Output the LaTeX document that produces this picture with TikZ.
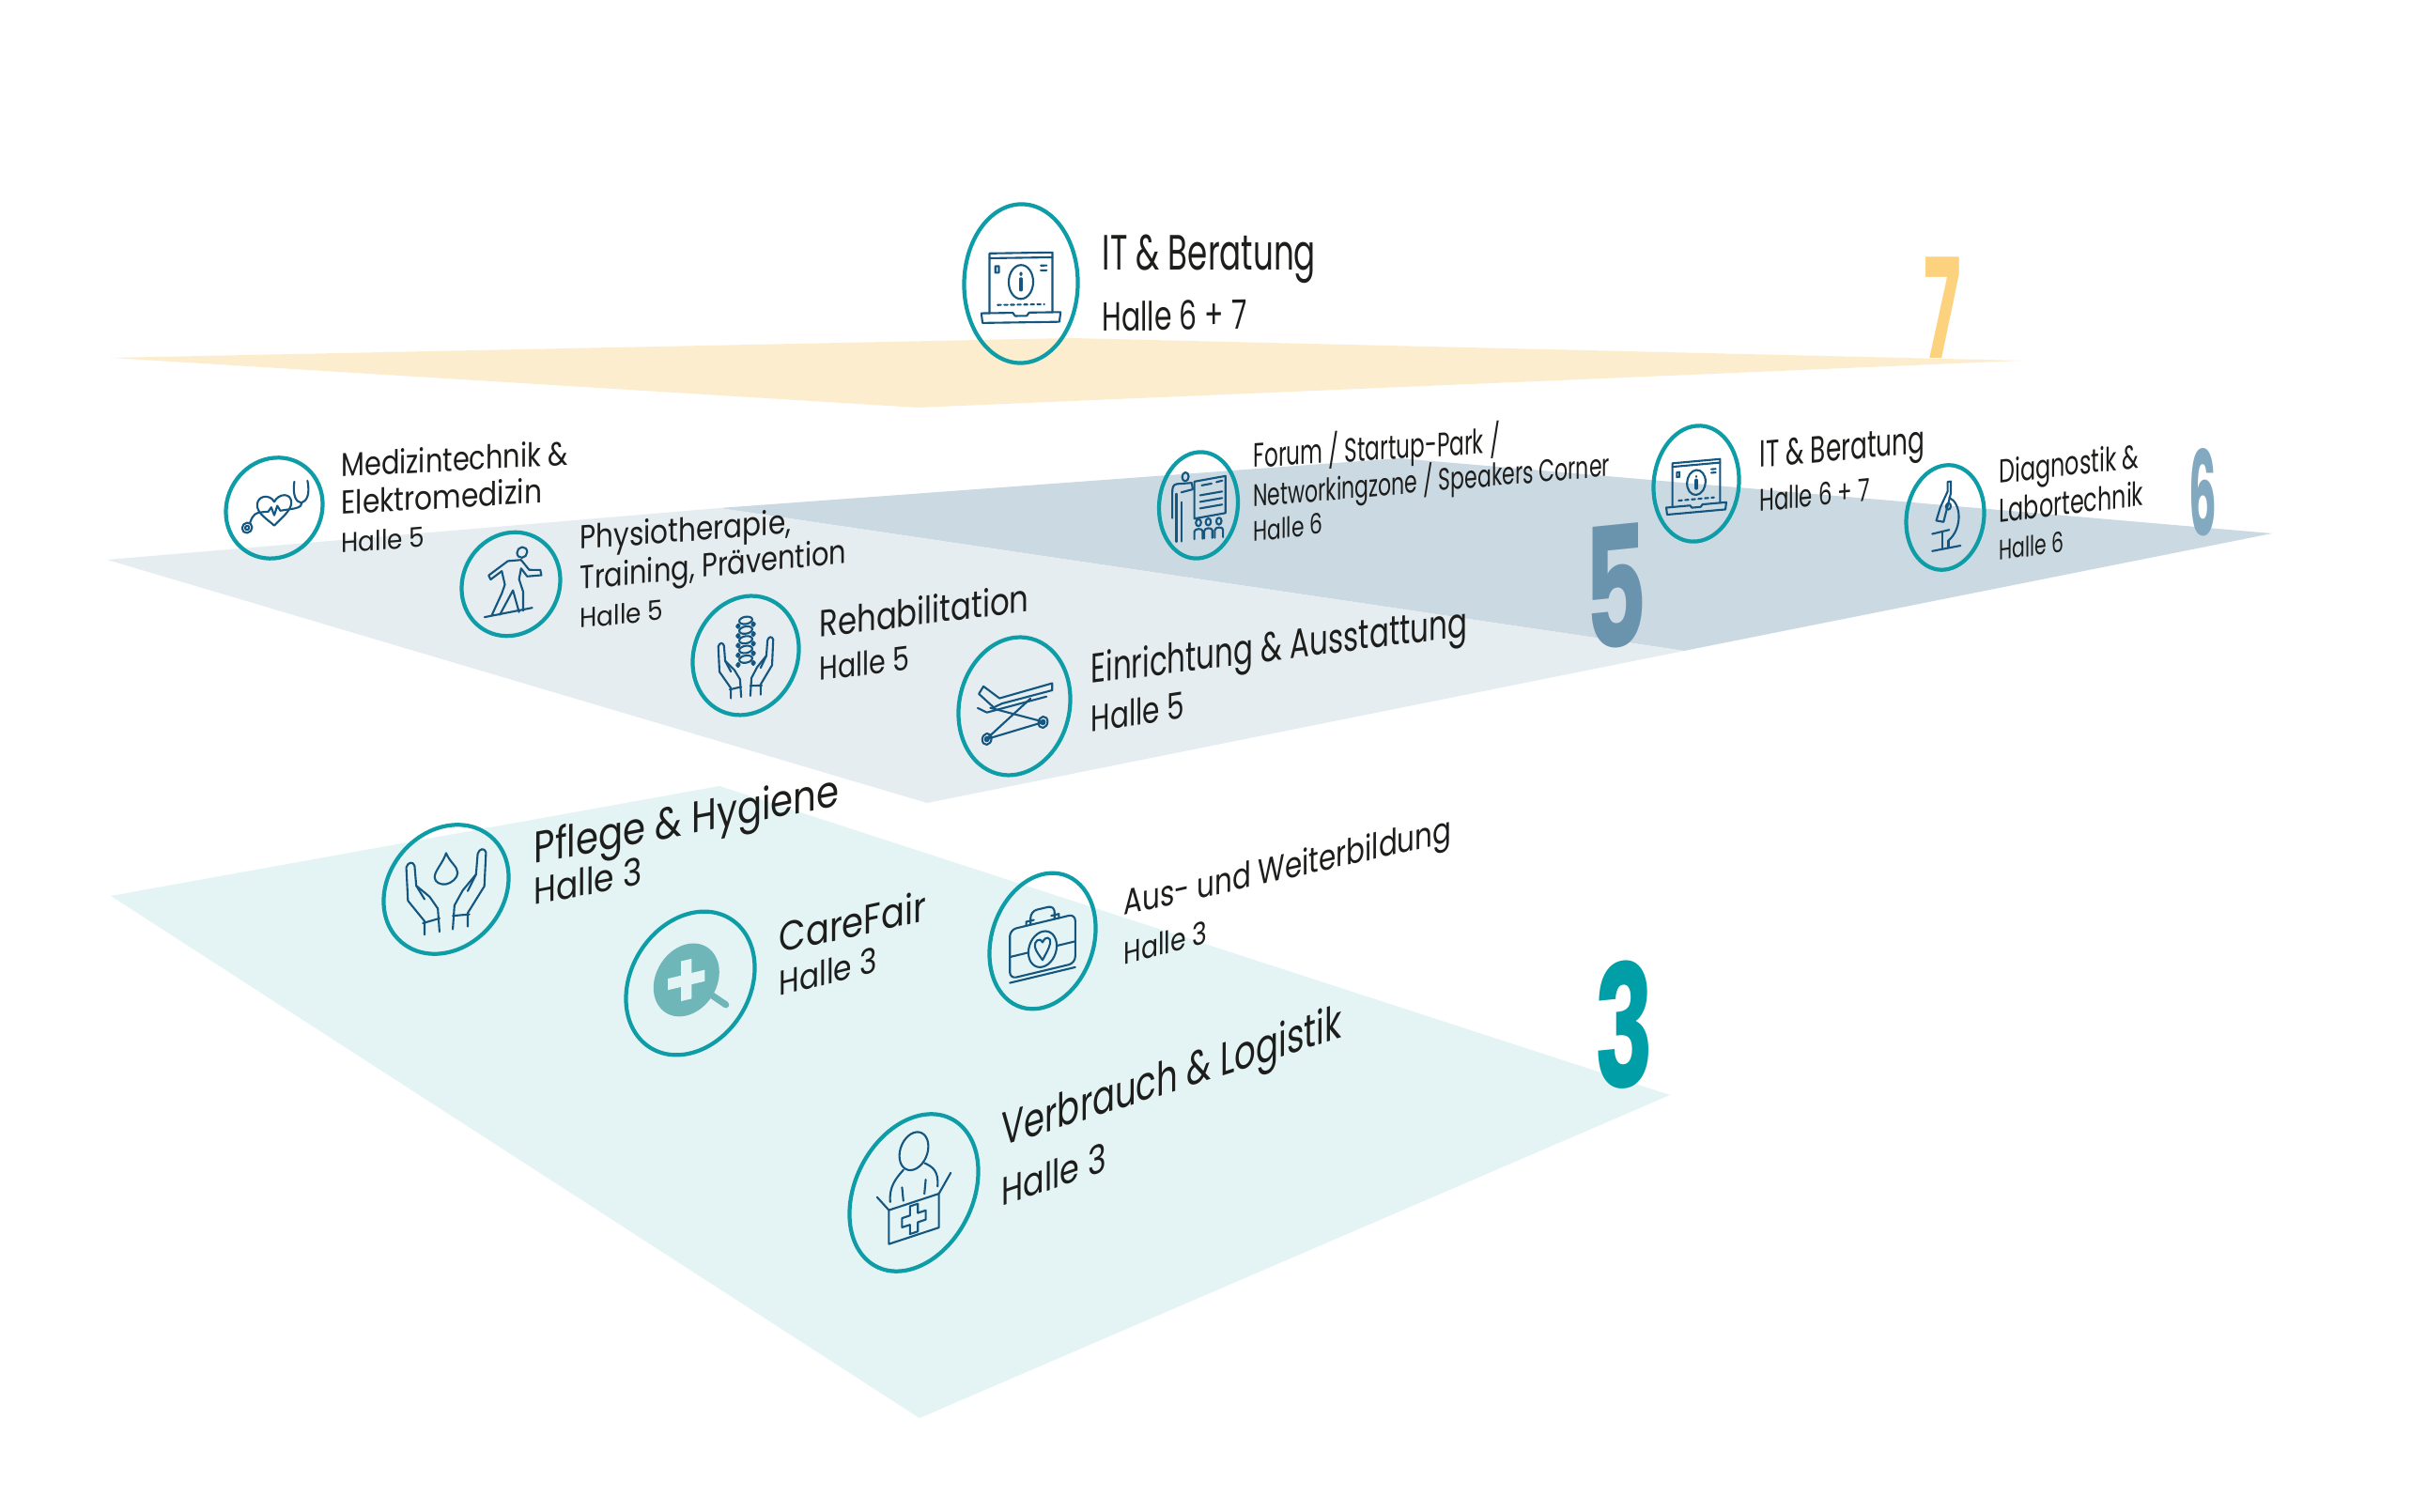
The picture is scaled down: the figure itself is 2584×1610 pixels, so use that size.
\documentclass[tikz,border=0pt]{standalone}
\usepackage{fontspec}
\setmainfont{Poppins}

\definecolor{ink}{HTML}{1D1D1B}
\definecolor{ringteal}{HTML}{0E9CA6}
\definecolor{iconblue}{HTML}{14567F}
\definecolor{glassteal}{HTML}{6FB6B8}
\definecolor{planeseven}{HTML}{FDEDCF}
\definecolor{planesix}{HTML}{CBD9E2}
\definecolor{planefive}{HTML}{E5EDF1}
\definecolor{planethree}{HTML}{E4F4F5}
\definecolor{digitseven}{HTML}{FDD27E}
\definecolor{digitsix}{HTML}{82A9BF}
\definecolor{digitfive}{HTML}{6A93AD}
\definecolor{digitthree}{HTML}{009FA8}

\newcommand{\handicon}{
    \draw[icon] (-13,36) -- (-13,28) -- (-23,14) -- (-24,-6) .. controls (-23,-9) and (-20,-9) .. (-19,-6) -- (-18,6) -- (-10,14) -- (-5,22) -- (-4,36);
    \draw[icon] (-14,29) -- (-4,28);
    \draw[icon] (-18,6) -- (-13,15);
}

\tikzset{
    skin/.style n args={3}{yslant=#3,xscale=#1,yscale=#2},
    ring/.style={circle,draw=ringteal,line width=1.2pt,minimum size=1cm,inner sep=0pt},
    icon/.style={draw=iconblue,line width=0.6pt,line join=round,line cap=round},
    lbl/.style={anchor=base west,inner sep=0pt,text=ink,font=\fontsize{10}{12}\selectfont},
    digit/.style={anchor=center,inner sep=0pt,font=\fontsize{10}{12}\selectfont\bfseries},
    pics/laptop/.style={code={
        \draw[icon] (-27,18) -- (-27,-19) -- (27,-19) -- (27,18);
        \draw[icon] (-27,-16) -- (27,-16);
        \draw[icon] (-34,18) -- (-7,18) -- (-5,20) -- (5,20) -- (7,18) -- (34,18) -- (33,24) -- (-33,24) -- cycle;
        \draw[icon] (0,-1) circle (10.5);
        \draw[icon,line width=0.9pt] (0,-3) -- (0,4);
        \fill[iconblue] (0,-6) circle (1.3);
        \draw[icon] (-22,-11) rectangle (-19,-7);
        \draw[icon] (17,-11) -- (22,-11);
        \draw[icon] (17,-8) -- (22,-8);
        \draw[icon,dash pattern=on 1pt off 1pt] (-20,13) -- (20,13);
    }},
    pics/stetho/.style={code={
        \draw[icon] (0,-6) .. controls (-4,-14) and (-17,-14) .. (-17,-4) .. controls (-17,4) and (-6,11) .. (0,17) .. controls (6,11) and (17,4) .. (17,-4) .. controls (17,-14) and (4,-14) .. (0,-6);
        \draw[icon] (-27,17) circle (5);
        \draw[icon] (-27,17) circle (2);
        \draw[icon] (-24,12) .. controls (-21,4) and (-18,3) .. (-12,3) -- (-6,3) -- (-3,-1) -- (0,7) -- (3,-2) -- (6,3) -- (20,2) .. controls (26,1) and (27,0) .. (27,-3);
        \draw[icon] (20,-24) .. controls (18,-10) and (22,-4) .. (27,-3) .. controls (32,-4) and (36,-10) .. (33,-24);
    }},
    pics/runner/.style={code={
        \draw[icon] (11,-29) circle (5);
        \draw[icon] (10,-22) -- (-3,-22) -- (-22,-10) -- (-20,-6) -- (-9,-13) -- (-6,0) -- (-9,8) -- (-19,28);
        \draw[icon] (-11,28) -- (2,6) -- (8,27);
        \draw[icon] (12,26) -- (12,8) -- (8,-4) -- (10,-14) -- (16,-6) -- (30,-6) -- (29,-11) -- (18,-12) -- (10,-22);
        \draw[icon] (-26,29) -- (21,24);
    }},
    pics/spine/.style={code={
        \foreach \y in {-29,-21,-13,-5,3}{
            \draw[icon] (0,\y) ellipse (6 and 3);
            \draw[icon] (-7,\y+4) circle (1.5);
            \draw[icon] (7,\y+4) circle (1.5);
        }
        \begin{scope}[shift={(0,-4)},scale=1.05]
            \handicon
        \end{scope}
        \begin{scope}[shift={(0,-4)},xscale=-1.05,yscale=1.05]
            \handicon
        \end{scope}
    }},
    pics/stretcher/.style={code={
        \draw[icon] (-13,-7) -- (33,-13) -- (33,-8) -- (-11,-3) -- (-18,-1) -- (-31,-12) -- (-27,-17) -- cycle;
        \draw[icon] (-32,-2) -- (-24,2) -- (28,-4);
        \draw[icon] (-21,-1) -- (23,13);
        \draw[icon] (14,-4) -- (-23,20);
        \draw[icon] (-24,21) -- (25,14);
        \draw[icon] (-24,21) circle (4);
        \draw[icon] (25,14) circle (4);
        \draw[icon] (-24,21) circle (1.5);
        \draw[icon] (25,14) circle (1.5);
    }},
    pics/presenter/.style={code={
        \draw[icon] (-16,-27) circle (4);
        \draw[icon] (-8,-21) -- (-26,-21) .. controls (-31,-21) and (-32,-18) .. (-32,-14) -- (-32,10);
        \draw[icon] (-27,-12) -- (-27,32);
        \draw[icon] (-21,-4) -- (-21,32);
        \draw[icon] (-21,-13) -- (-7,-15) -- (-8,-20);
        \draw[icon] (-5,-22) -- (33,-25) -- (33,9) -- (-5,12) -- cycle;
        \draw[icon] (4,-18) -- (16,-19);
        \draw[icon] (22,-20) -- (29,-21);
        \draw[icon] (2,-9) -- (29,-11);
        \draw[icon] (2,-3) -- (29,-5);
        \draw[icon] (2,3) -- (29,1);
        \foreach \x in {0,12,25}{
            \draw[icon] (\x,16) circle (3.2);
            \draw[icon] (\x-5,31) -- (\x-5,24) .. controls (\x-5,21) and (\x+5,21) .. (\x+5,24) -- (\x+5,31);
        }
    }},
    pics/microscope/.style={code={
        \draw[icon] (3,-33) -- (7,-33) -- (7,-22) -- (-2,4) -- (-11,2) -- (-6,-10) -- (3,-24) -- cycle;
        \draw[icon] (5,-18) .. controls (20,-12) and (22,12) .. (4,22);
        \draw[icon] (4,-10) circle (3);
        \draw[icon] (-16,14) -- (5,12);
        \draw[icon] (-4,14) -- (-4,29);
        \draw[icon] (4,22) -- (4,28);
        \draw[icon] (-16,30) -- (19,28);
    }},
    pics/drop/.style={code={
        \draw[icon] (0,-28) .. controls (-3,-20) and (-9,-16) .. (-9,-11) .. controls (-9,-7) and (-4,-4) .. (0,-4) .. controls (4,-4) and (9,-7) .. (9,-11) .. controls (9,-16) and (3,-20) .. (0,-28);
        \begin{scope}[shift={(0,-15)},scale=1.3]
            \handicon
        \end{scope}
        \begin{scope}[shift={(0,-15)},xscale=-1.3,yscale=1.3]
            \handicon
        \end{scope}
    }},
    pics/glass/.style={code={
        \fill[glassteal] (-3,-3) circle (25);
        \draw[glassteal,line width=2pt,line cap=round] (14,10) -- (27,21);
        \fill[planethree] (-7,-17) rectangle (1,11);
        \fill[planethree] (-17,-7) rectangle (11,1);
    }},
    pics/kit/.style={code={
        \draw[icon,rounded corners=2] (-30,-14) rectangle (30,22);
        \draw[icon] (-30,25) -- (30,25);
        \draw[icon,rounded corners=2] (-11,-14) -- (-11,-24) -- (11,-24) -- (11,-14);
        \draw[icon] (-15,-14) -- (-15,-17) -- (-8,-17);
        \draw[icon] (15,-14) -- (15,-17) -- (8,-17);
        \draw[icon] (0,6) circle (13);
        \draw[icon] (0,1) .. controls (-3,-4) and (-8,-1) .. (-7,3) .. controls (-6,7) and (-2,11) .. (0,14) .. controls (2,11) and (6,7) .. (7,3) .. controls (8,-1) and (3,-4) .. (0,1);
        \draw[icon] (-30,6) -- (-13,6);
        \draw[icon] (13,6) -- (30,6);
    }},
    pics/parcel/.style={code={
        \draw[icon] (0,-27) ellipse (11 and 12);
        \draw[icon] (-18,1) .. controls (-19,-9) and (-14,-13) .. (-8,-17);
        \draw[icon] (18,1) .. controls (19,-9) and (14,-13) .. (8,-17);
        \draw[icon] (-9,-6) -- (-8,3);
        \draw[icon] (9,-6) -- (8,3);
        \draw[icon] (-19,6) rectangle (19,28);
        \draw[icon] (-19,6) -- (-28,-5);
        \draw[icon] (19,6) -- (28,-5);
        \draw[icon] (-3,8) -- (3,8) -- (3,14) -- (9,14) -- (9,20) -- (3,20) -- (3,26) -- (-3,26) -- (-3,20) -- (-9,20) -- (-9,14) -- (-3,14) -- cycle;
    }},
}

\begin{document}
\begin{tikzpicture}[x=0.01cm,y=-0.01cm]
    \useasboundingbox (0,0) rectangle (2584,1610);
    \fill[white] (0,0) rectangle (2584,1610);

    % planes
    \fill[planeseven] (118,381) -- (1140,360) -- (2153,384) -- (977,434) -- cycle;
    \fill[planesix] (766,541) -- (1490,488) -- (2419,568) -- (1793,693) -- cycle;
    \fill[planefive] (114,596) -- (766,541) -- (1793,693) -- (987,855) -- cycle;
    \fill[planethree] (118,954) -- (766,837) -- (1778,1166) -- (979,1510) -- cycle;

    % hall numbers
    \node (digitSeven) [digit,text=digitseven,skin={2.1}{4.2}{0}] at (2068,328) {7};
    \node (digitSix) [digit,text=digitsix,skin={1.33}{3.55}{0}] at (2345,524) {6};
    \node (digitFive) [digit,text=digitfive,skin={2.95}{5.1}{0.1}] at (1720,625) {5};
    \node (digitThree) [digit,text=digitthree,skin={3}{5.15}{0.1}] at (1729,1091) {3};

    % level 7
    \node (itTopRing) [ring,skin={1.21}{1.69}{0.015}] at (1087,302) {};
    \pic[skin={1.24}{1.72}{0.015}] at (1087,302) {laptop};
    \node (itTopName) [lbl,skin={0.97}{1.5}{0}] at (1173,288) {IT \& Beratung};
    \node (itTopHall) [lbl,skin={0.85}{1.22}{0.02}] at (1173,353) {Halle 6 + 7};

    % level 5
    \node (mediRing) [ring,skin={1.03}{1.07}{0.08}] at (292,541) {};
    \pic[skin={1.07}{1.1}{0.08}] at (292,541) {stetho};
    \node (mediNameA) [lbl,skin={0.82}{1}{0.054}] at (363,508) {Medizintechnik \&};
    \node (mediNameB) [lbl,skin={0.845}{1}{0.06}] at (363,548) {Elektromedizin};
    \node (mediHall) [lbl,skin={0.75}{0.83}{0.08}] at (363,589) {Halle 5};

    \node (physioRing) [ring,skin={1.05}{1.1}{0.085}] at (544,622) {};
    \pic[skin={1.08}{1.13}{0.085}] at (544,622) {runner};
    \node (physioNameA) [lbl,skin={0.84}{1}{0.075}] at (617,585) {Physiotherapie,};
    \node (physioNameB) [lbl,skin={0.82}{1}{0.1}] at (617,628) {Training, Prävention};
    \node (physioHall) [lbl,skin={0.75}{0.83}{0.1}] at (617,669) {Halle 5};

    \node (rehaRing) [ring,skin={1.13}{1.26}{0.125}] at (794,698) {};
    \pic[skin={1.16}{1.29}{0.125}] at (794,698) {spine};
    \node (rehaName) [lbl,skin={0.92}{1.14}{0.125}] at (872,679) {Rehabilitation};
    \node (rehaHall) [lbl,skin={0.81}{1}{0.125}] at (872,725) {Halle 5};

    \node (roomRing) [ring,skin={1.19}{1.46}{0.126}] at (1080,752) {};
    \pic[skin={1.22}{1.49}{0.126}] at (1080,752) {stretcher};
    \node (roomName) [lbl,skin={0.88}{1.25}{0.126}] at (1161,728) {Einrichtung \& Ausstattung};
    \node (roomHall) [lbl,skin={0.84}{1.11}{0.15}] at (1161,780) {Halle 5};

    % level 6
    \node (forumRing) [ring,skin={0.84}{1.13}{0.075}] at (1276,538) {};
    \pic[skin={0.87}{1.16}{0.075}] at (1276,538) {presenter};
    \node (forumNameA) [lbl,skin={0.66}{1.02}{0.06}] at (1334,498) {Forum / Startup-Park /};
    \node (forumNameB) [lbl,skin={0.626}{0.94}{0.087}] at (1334,540) {Networkingzone / Speakers Corner};
    \node (forumHall) [lbl,skin={0.62}{0.85}{0.12}] at (1334,577) {Halle 6};

    \node (itMidRing) [ring,skin={0.91}{1.23}{0.09}] at (1806,515) {};
    \pic[skin={0.94}{1.26}{0.09}] at (1806,515) {laptop};
    \node (itMidName) [lbl,skin={0.75}{1.14}{0.09}] at (1873,498) {IT \& Beratung};
    \node (itMidHall) [lbl,skin={0.65}{0.94}{0.1}] at (1873,545) {Halle 6 + 7};

    \node (diagRing) [ring,skin={0.83}{1.11}{0.118}] at (2071,551) {};
    \pic[skin={0.86}{1.14}{0.118}] at (2071,551) {microscope};
    \node (diagNameA) [lbl,skin={0.68}{1}{0.113}] at (2128,515) {Diagnostik \&};
    \node (diagNameB) [lbl,skin={0.68}{1}{0.123}] at (2128,557) {Labortechnik};
    \node (diagHall) [lbl,skin={0.58}{0.85}{0.14}] at (2128,597) {Halle 6};

    % level 3
    \node (careRing) [ring,skin={1.33}{1.35}{0.19}] at (475,947) {};
    \pic[skin={1.36}{1.38}{0.19}] at (475,947) {drop};
    \node (careName) [lbl,skin={1.1}{1.34}{0.19}] at (568,920) {Pflege \& Hygiene};
    \node (careHall) [lbl,skin={0.98}{1.14}{0.19}] at (568,964) {Halle 3};

    \node (fairRing) [ring,skin={1.37}{1.49}{0.24}] at (735,1047) {};
    \pic[skin={1.4}{1.52}{0.24}] at (735,1047) {glass};
    \node (fairName) [lbl,skin={1.05}{1.25}{0.22}] at (829,1015) {CareFair};
    \node (fairHall) [lbl,skin={0.89}{1.05}{0.25}] at (829,1061) {Halle 3};

    \node (trainRing) [ring,skin={1.13}{1.42}{0.24}] at (1110,1002) {};
    \pic[skin={1.16}{1.45}{0.24}] at (1110,1002) {kit};
    \node (trainName) [lbl,skin={0.835}{1.08}{0.225}] at (1196,975) {Aus- und Weiterbildung};
    \node (trainHall) [lbl,skin={0.76}{0.94}{0.27}] at (1196,1028) {Halle 3};

    \node (goodsRing) [ring,skin={1.37}{1.61}{0.33}] at (973,1270) {};
    \pic[skin={1.4}{1.64}{0.33}] at (973,1270) {parcel};
    \node (goodsName) [lbl,skin={1.01}{1.42}{0.32}] at (1066,1221) {Verbrauch \& Logistik};
    \node (goodsHall) [lbl,skin={0.95}{1.2}{0.34}] at (1066,1285) {Halle 3};
\end{tikzpicture}
\end{document}
